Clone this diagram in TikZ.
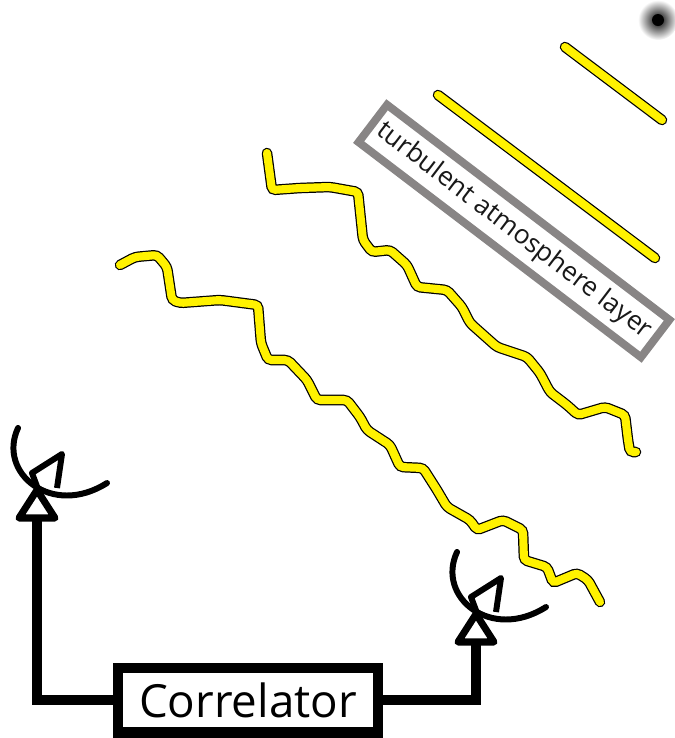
\documentclass[tikz,border=0pt]{standalone}
\usepackage{fontspec}
\setmainfont{Open Sans}
\usetikzlibrary{positioning}

\definecolor{layergray}{RGB}{136,133,133}
\definecolor{wavefront}{RGB}{255,242,0}

\tikzset{
  antenna/.pic={
    % mount
    \draw[line width=4pt, line join=round, fill=white] (-18,0) -- (0,-28) -- (18,0) -- cycle;
    % reflector
    \draw[line width=3.4pt, line cap=round] (-19,-90) .. controls (-40,-45) and (15,0) .. (70,-35);
    % feed horn
    \draw[line width=3.4pt, line join=round] (1,-29) -- (-5,-45) -- (25,-64) -- (20,-30);
  }
}

\begin{document}
\begin{tikzpicture}[x=0.02cm, y=-0.02cm,
    wave/.style={draw=black, line width=0.7pt, double=wavefront, double distance=4.6pt, rounded corners=2pt, line cap=round},
    wire/.style={line width=5.7pt},
    box/.style={rectangle, draw, line width=5.7pt, fill=white, minimum width=5.2cm, minimum height=1.3cm, font=\fontsize{26}{30}\selectfont},
    layerbox/.style={rectangle, draw=layergray, line width=4.5pt, fill=white, rotate=-37.3, minimum width=7.1cm, minimum height=0.94cm, inner sep=0pt, text=black!90, font=\fontsize{15}{17}\selectfont}
]
\useasboundingbox (0,0) rectangle (674,738);

% Source
\shade[inner color=black, outer color=white] (658,20) circle (20);
\fill (658,20) circle (6);

% Plane wavefronts
\draw[wave] (565,47) -- (662,120);
\draw[wave] (438,95) -- (655,258);

% Layer
\node[layerbox] (layer) at (514,231) {turbulent atmosphere layer};

% Distorted wavefronts
\draw[wave] (267,153) -- (272,190) -- (300,188) -- (330,187) -- (358,192) -- (363,240)
  -- (372,252) -- (390,250) -- (407,265) -- (417,287) -- (447,290) -- (462,307)
  -- (470,323) -- (497,347) -- (527,357) -- (540,373) -- (550,392) -- (567,405)
  -- (578,415) -- (605,407) -- (625,415) -- (628,440) -- (630,452) -- (636,452);
\draw[wave] (120,265) -- (135,257) -- (157,255) -- (167,267) -- (172,300) -- (180,303)
  -- (220,300) -- (258,305) -- (261,343) -- (268,360) -- (288,360) -- (307,380)
  -- (317,400) -- (347,400) -- (360,417) -- (367,430) -- (390,445) -- (400,467)
  -- (423,468) -- (437,490) -- (447,507) -- (470,520) -- (477,530) -- (503,520)
  -- (523,530) -- (524,560) -- (547,567) -- (553,583) -- (577,573) -- (588,580)
  -- (600,602);

% Antennas
\coordinate (ant1) at (37,518);
\coordinate (ant2) at (476,642);
\pic at (ant1) {antenna};
\pic at (ant2) {antenna};

% Correlator
\node[box] (corr) at (248,700) {Correlator};
\draw[wire] (corr.west) -| (ant1);
\draw[wire] (corr.east) -| (ant2);

\end{tikzpicture}
\end{document}
